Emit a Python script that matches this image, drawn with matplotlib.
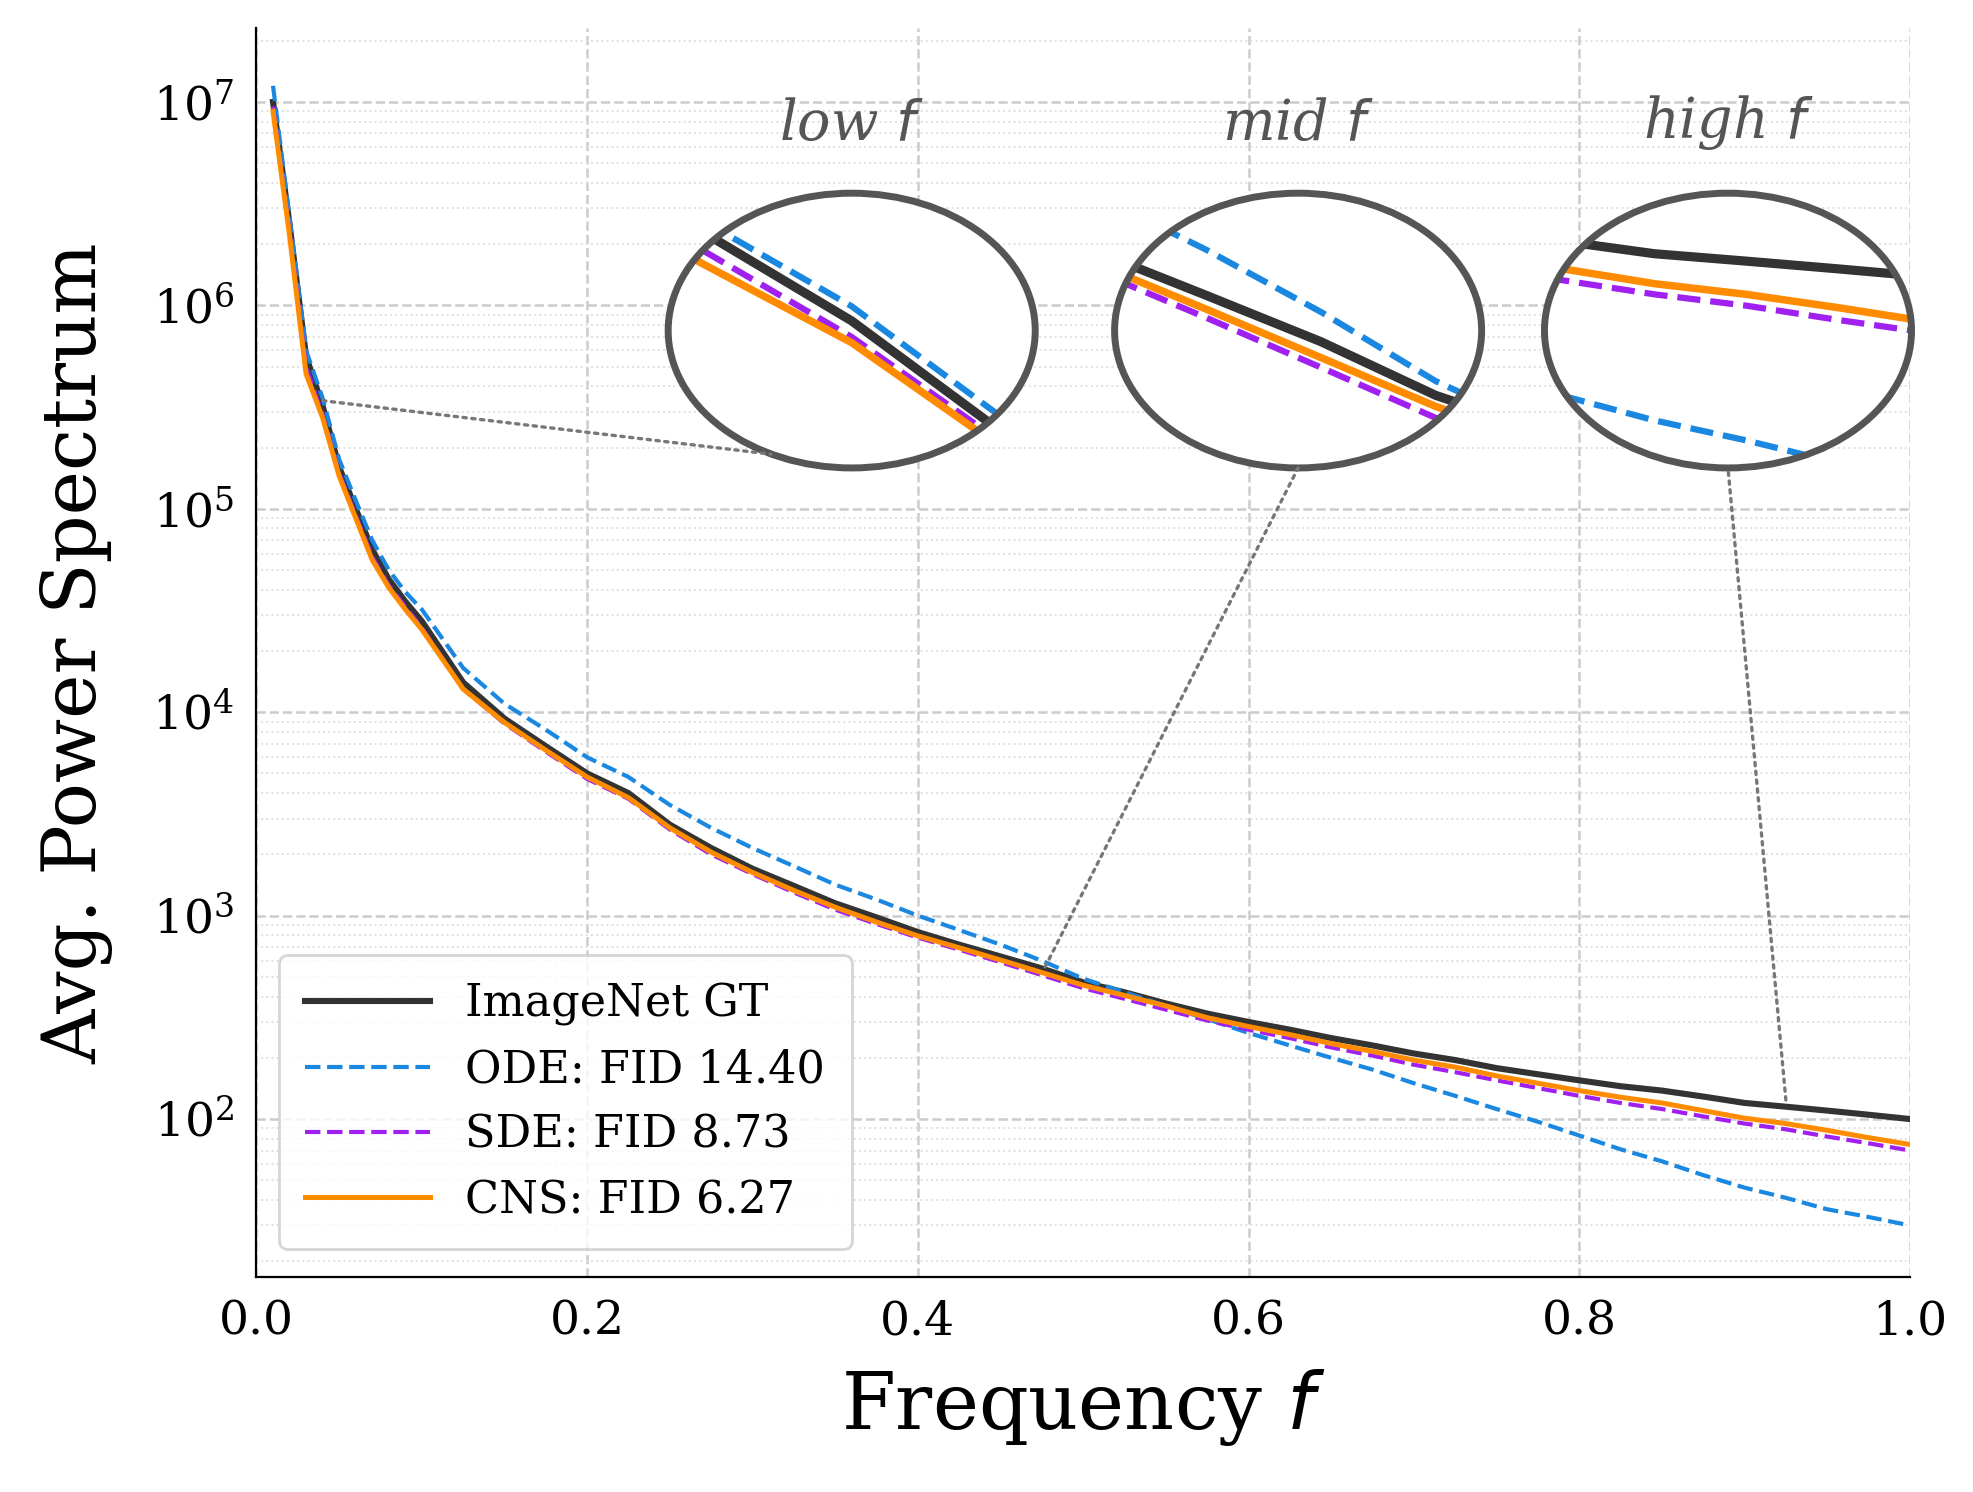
import matplotlib
matplotlib.use("Agg")
import matplotlib.pyplot as plt
from matplotlib.patches import Ellipse, ConnectionPatch

freq = [0.01,0.02,0.03,0.04,0.05,0.06,0.07,0.08,0.09,0.10,
        0.125,0.15,0.175,0.2,0.225,0.25,0.275,0.3,0.325,0.35,0.375,0.4,0.425,0.45,0.475,
        0.5,0.525,0.55,0.575,0.6,0.625,0.65,0.675,0.7,0.725,0.75,0.775,0.8,0.825,0.85,
        0.875,0.9,0.925,0.95,0.975,1.0]
gt = [1.0e7,2.5e6,5.6e5,3.2e5,1.6e5,1.0e5,6.3e4,4.5e4,3.5e4,2.8e4,1.4e4,9.3e3,6.8e3,5.0e3,4.0e3,
      2.8e3,2.15e3,1.7e3,1.4e3,1.15e3,9.8e2,8.3e2,7.2e2,6.3e2,5.5e2,4.7e2,4.2e2,3.7e2,3.3e2,3.0e2,
      2.75e2,2.5e2,2.3e2,2.1e2,1.95e2,1.78e2,1.66e2,1.55e2,1.45e2,1.38e2,1.29e2,1.2e2,1.15e2,1.1e2,1.05e2,1.0e2]
ode = [1.2e7,2.7e6,6.0e5,3.5e5,1.75e5,1.1e5,7.0e4,5.0e4,3.9e4,3.2e4,1.65e4,1.1e4,8.2e3,6.0e3,4.8e3,
       3.5e3,2.7e3,2.15e3,1.75e3,1.42e3,1.2e3,1.0e3,8.5e2,7.2e2,6.0e2,4.9e2,4.2e2,3.6e2,3.1e2,2.65e2,
       2.3e2,2.0e2,1.75e2,1.5e2,1.3e2,1.12e2,9.7e1,8.3e1,7.1e1,6.2e1,5.3e1,4.6e1,4.1e1,3.6e1,3.3e1,3.0e1]
sde = [9.5e6,2.3e6,5.0e5,2.9e5,1.5e5,9.3e4,5.8e4,4.2e4,3.3e4,2.6e4,1.3e4,8.8e3,6.4e3,4.7e3,3.75e3,
       2.65e3,2.0e3,1.6e3,1.3e3,1.07e3,9.1e2,7.8e2,6.8e2,5.9e2,5.1e2,4.4e2,3.9e2,3.45e2,3.05e2,2.75e2,
       2.5e2,2.25e2,2.05e2,1.85e2,1.7e2,1.55e2,1.42e2,1.3e2,1.2e2,1.12e2,1.03e2,9.5e1,8.9e1,8.2e1,7.6e1,7.0e1]
cns = [9.0e6,2.2e6,4.6e5,2.8e5,1.45e5,9.0e4,5.6e4,4.1e4,3.2e4,2.55e4,1.3e4,8.9e3,6.5e3,4.8e3,3.8e3,
       2.7e3,2.05e3,1.63e3,1.33e3,1.1e3,9.3e2,7.95e2,6.95e2,6.05e2,5.25e2,4.55e2,4.05e2,3.6e2,3.15e2,2.85e2,
       2.6e2,2.35e2,2.15e2,1.95e2,1.8e2,1.63e2,1.5e2,1.38e2,1.28e2,1.2e2,1.1e2,1.01e2,9.5e1,8.8e1,8.1e1,7.5e1]
labels = ["ImageNet GT", "ODE: FID 14.40", "SDE: FID 8.73", "CNS: FID 6.27"]
series = [gt, ode, sde, cns]
styles = [dict(color="#333333", ls="-", lw=2.2),
          dict(color="#1a88e0", ls="--", lw=1.5),
          dict(color="#a020f0", ls="--", lw=1.5),
          dict(color="#ff8c00", ls="-", lw=1.8)]

plt.rcParams["font.family"] = ["DejaVu Serif"]
fig = plt.figure(figsize=(1973/200, 1492/200), dpi=200)
ax = fig.add_axes([0.13, 0.144, 0.838, 0.837])
for y, lab, st in zip(series, labels, styles):
    ax.plot(freq, y, label=lab, **st)
ax.set_yscale("log")
ax.set_xlim(0, 1)
ax.set_ylim(16.7, 2.3e7)
ax.grid(True, which="major", ls="--", color="#cccccc", lw=0.9)
ax.grid(True, which="minor", ls=":", color="#e0e0e0", lw=0.7)
for s in ["top", "right"]:
    ax.spines[s].set_visible(False)
ax.tick_params(labelsize=17, length=0, which="both", pad=8)
ax.set_xlabel("Frequency $f$", fontsize=28, labelpad=8)
ax.set_ylabel("Avg. Power Spectrum", fontsize=27, labelpad=14)
leg = ax.legend(loc="lower left", fontsize=16, frameon=True, borderpad=0.6,
                handlelength=2.8, bbox_to_anchor=(0.0, 0.005))
leg.get_frame().set_edgecolor("#cccccc")

w, h = 0.222, 0.22
insets = [("low $f$", 0.36, (0.028, 0.052), (1.3e5, 7e5), (0.04, 3.4e5), (0.28, 0.05)),
          ("mid $f$", 0.63, (0.43, 0.51), (3.8e2, 8.5e2), (0.477, 560), (0.5, 0.0)),
          ("high $f$", 0.89, (0.87, 0.97), (3.5e1, 1.7e2), (0.925, 124), (0.5, 0.0))]
for title, cx, xl, yl, p0, p1 in insets:
    ia = ax.inset_axes([cx - w/2, 0.758 - h/2, w, h])
    ia.axis("off")
    ia.set_yscale("log")
    ell = Ellipse((0.5, 0.5), 1, 1, transform=ia.transAxes, fc="white", ec="none")
    ia.add_patch(ell)
    for y, st in zip(series, styles):
        st2 = dict(st); st2["lw"] = st["lw"] * 1.5
        ln, = ia.plot(freq, y, **st2)
        ln.set_clip_path(ell)
    ia.set_xlim(*xl); ia.set_ylim(*yl)
    ia.add_patch(Ellipse((0.5, 0.5), 1, 1, transform=ia.transAxes, fc="none",
                         ec="#555555", lw=2.5, zorder=5, clip_on=False))
    ia.text(0.5, 1.15, title, transform=ia.transAxes, ha="center", va="bottom",
            fontsize=20, style="italic", color="#555555")
    cp = ConnectionPatch(xyA=p0, coordsA=ax.transData, xyB=p1, coordsB=ia.transAxes,
                         ls=":", color="#777777", lw=1.2)
    fig.add_artist(cp)

fig.savefig("out.png", dpi=200)
